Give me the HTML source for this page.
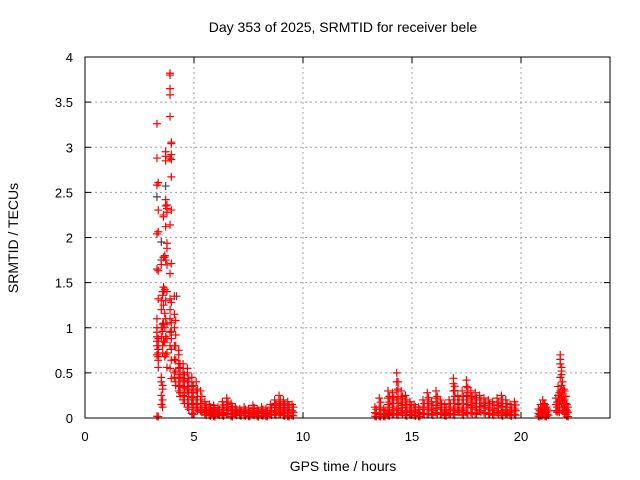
<!DOCTYPE html>
<html><head><meta charset="utf-8"><style>
body{margin:0;background:#fff;}
svg{display:block;font-family:"Liberation Sans",sans-serif;}
</style></head><body>
<svg id="c" width="640" height="480">
<rect width="640" height="480" fill="#fff"/>
<text x="343" y="32" font-size="14" text-anchor="middle">Day 353 of 2025, SRMTID for receiver bele</text>
<text x="343" y="471" font-size="14" text-anchor="middle">GPS time / hours</text>
<text transform="translate(18,238) rotate(-90)" font-size="14" text-anchor="middle">SRMTID / TECUs</text>
<g id="grid"></g><g id="marks"></g>
<rect x="85" y="57" width="525" height="361" fill="none" stroke="#000"/>
</svg>
<script>
const xTicks=[0,5,10,15,20];
const yTicks=[0,0.5,1,1.5,2,2.5,3,3.5,4];
const yTickLabels=["0","0.5","1","1.5","2","2.5","3","3.5","4"];
const times=[3.3,3.5,3.6,3.7,3.9,4.1,4.3,4.5,4.7,4.9,5.1,5.3,5.5,5.7,5.9,6.1,6.3,6.5,6.7,6.9,7.1,7.3,7.5,7.7,7.9,8.1,8.3,8.5,8.7,8.9,9.1,9.3,9.5,
13.3,13.5,13.7,13.9,14.1,14.3,14.5,14.7,14.9,15.1,15.3,15.5,15.7,15.9,16.1,16.3,16.5,16.7,16.9,17.1,17.3,17.5,17.7,17.9,18.1,18.3,18.5,18.7,18.9,19.1,19.3,19.5,19.7,
20.8,20.9,21.0,21.1,21.2,21.6,21.7,21.8,21.9,22.0,22.1];
const values=[
[3.26,2.88,2.58,2.04,1.65,1.1,1.0,0.95,0.9,0.85,0.8,0.7,0.02],
[1.75,1.7,1.3,1.2,1.0,0.9,0.45,0.4,0.25,0.15],
[2.25,2.23,1.78,1.45,1.25,1.05,0.85],
[2.95,2.9,2.85,2.42,2.35,2.12,1.75,1.3,1.1,0.9,0.7],
[3.82,3.8,3.65,3.58,3.34,2.88,2.14,1.6,1.32,1.2,1.1,0.95,0.8,0.55],
[1.35,1.15,1.0,0.8,0.65,0.5,0.45],
[0.75,0.7,0.6,0.55,0.45,0.35,0.3],
[0.6,0.55,0.5,0.42,0.35,0.25,0.2],
[0.55,0.5,0.4,0.35,0.3,0.2,0.12],
[0.45,0.35,0.28,0.2,0.15,0.05],
[0.4,0.3,0.2,0.15,0.1],
[0.3,0.2,0.12,0.08],
[0.18,0.12,0.08,0.04],
[0.15,0.1,0.06,0.03],
[0.14,0.09,0.05,0.02],
[0.12,0.08,0.04],
[0.18,0.12,0.06,0.03],
[0.22,0.15,0.1,0.05],
[0.16,0.1,0.05,0.02],
[0.12,0.08,0.04],
[0.1,0.06,0.03],
[0.12,0.07,0.03],
[0.1,0.06,0.02],
[0.14,0.08,0.04],
[0.1,0.06,0.02],
[0.12,0.07,0.03],
[0.1,0.05,0.02],
[0.15,0.08,0.04],
[0.2,0.14,0.08,0.04],
[0.25,0.18,0.12,0.05],
[0.2,0.14,0.08,0.03],
[0.18,0.12,0.06,0.02],
[0.15,0.08,0.03],
[0.12,0.06,0.02],
[0.22,0.12,0.05,0.02],
[0.1,0.05,0.02],
[0.3,0.22,0.15,0.08,0.03],
[0.28,0.2,0.12,0.05],
[0.5,0.4,0.3,0.2,0.1,0.04],
[0.3,0.22,0.14,0.06],
[0.25,0.15,0.08,0.03],
[0.18,0.1,0.04],
[0.15,0.08,0.03],
[0.12,0.06,0.02],
[0.2,0.12,0.05],
[0.28,0.2,0.12,0.05],
[0.18,0.1,0.04],
[0.3,0.22,0.14,0.06],
[0.2,0.12,0.05],
[0.15,0.08,0.03],
[0.2,0.12,0.05],
[0.44,0.38,0.3,0.2,0.1,0.04],
[0.25,0.15,0.08],
[0.3,0.2,0.1,0.04],
[0.42,0.35,0.25,0.15,0.06],
[0.3,0.22,0.14,0.06],
[0.28,0.2,0.12,0.05],
[0.25,0.16,0.08],
[0.22,0.14,0.06],
[0.2,0.12,0.05],
[0.18,0.1,0.04],
[0.22,0.14,0.06],
[0.25,0.16,0.08,0.03],
[0.2,0.12,0.05],
[0.15,0.08,0.03],
[0.18,0.1,0.04],
[0.1,0.05,0.02],
[0.15,0.08,0.03],
[0.2,0.12,0.05],
[0.15,0.08,0.02],
[0.1,0.04],
[0.22,0.15,0.08],
[0.35,0.25,0.15,0.08],
[0.7,0.65,0.6,0.45,0.3,0.2],
[0.4,0.3,0.2,0.1],
[0.3,0.2,0.12,0.05],
[0.15,0.08,0.02]];
const grayX=[3.3,3.7,3.5,3.6,4.2];
const grayY=[2.45,2.57,1.95,1.4,1.35];
const X=t=>85+t*21.8, Y=v=>418-v*90.25;
const NS="http://www.w3.org/2000/svg";
const svg=document.getElementById('c'),grid=document.getElementById('grid'),marks=document.getElementById('marks');
function mk(tag,attrs,parent){const e=document.createElementNS(NS,tag);for(const k in attrs)e.setAttribute(k,attrs[k]);parent.appendChild(e);return e;}
xTicks.forEach(t=>{
  if(t>0){const g=mk('line',{x1:X(t),x2:X(t),y1:57,y2:418,stroke:'#a0a0a0','stroke-dasharray':'2,3'},grid);
  
  }
  mk('line',{x1:X(t),x2:X(t),y1:418,y2:412,stroke:'#000'},grid);
  mk('line',{x1:X(t),x2:X(t),y1:57,y2:63,stroke:'#000'},grid);
  const l=mk('text',{x:X(t),y:441,'font-size':13,'text-anchor':'middle'},svg);l.textContent=t;
  
  
});
yTicks.forEach((v,i)=>{
  if(v>0&&v<4){const g=mk('line',{x1:85,x2:610,y1:Y(v),y2:Y(v),stroke:'#a0a0a0','stroke-dasharray':'2,3'},grid);
  
  }
  mk('line',{x1:85,x2:91,y1:Y(v),y2:Y(v),stroke:'#000'},grid);
  mk('line',{x1:604,x2:610,y1:Y(v),y2:Y(v),stroke:'#000'},grid);
  const l=mk('text',{x:73,y:Y(v)+5,'font-size':13,'text-anchor':'end'},svg);l.textContent=yTickLabels[i];
  
  
});
function plus(t,v,col){
  const x=X(t),y=Y(v);
  const p=mk('path',{d:`M${x-4},${y}H${x+4}M${x},${y-4}V${y+4}`,stroke:col,'stroke-width':1.2},marks);
  
  
}
grayX.forEach((t,i)=>plus(t,grayY[i],'#444'));
times.forEach((t,i)=>values[i].forEach((v,j)=>{plus(t,v,'#f00');plus(t+0.06,v*0.8,'#f00');}));
</script>
</body></html>
